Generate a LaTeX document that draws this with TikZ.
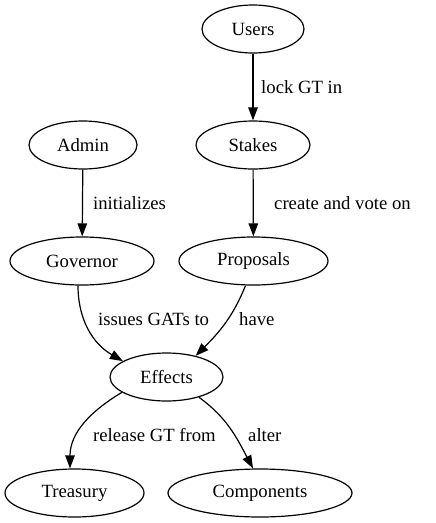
\documentclass[tikz,border=0pt]{standalone}
\usepackage{fontspec}
\setmainfont{Liberation Serif}
\usetikzlibrary{shapes.geometric,arrows.meta}

\begin{document}
\begin{tikzpicture}[x=1pt,y=-1pt,
                    font=\fontsize{18.7}{22}\selectfont,
                    gv node/.style={ellipse, draw, line width=1.2pt, inner sep=0pt, minimum height=48pt},
                    gv edge/.style={line width=1.2pt, -{Triangle[length=13pt,width=9.5pt]}},
                    edge label/.style={anchor=west, inner sep=0pt}]
        \useasboundingbox (0,0) rectangle (436,523);

        % nodes
        \node[gv node, minimum width=102pt] (users) at (253,29) {Users};
        \node[gv node, minimum width=108pt] (admin) at (83,145) {Admin};
        \node[gv node, minimum width=114pt] (stakes) at (253,145) {Stakes};
        \node[gv node, minimum width=144pt] (governor) at (82,261) {Governor};
        \node[gv node, minimum width=149pt] (proposals) at (253.5,261) {Proposals};
        \node[gv node, minimum width=113pt] (effects) at (166.5,377) {Effects};
        \node[gv node, minimum width=139pt] (treasury) at (74.5,493) {Treasury};
        \node[gv node, minimum width=184pt] (components) at (260,493) {Components};

        % edges
        \draw[gv edge] (users) -- (stakes);
        \draw[gv edge] (admin) -- (governor);
        \draw[gv edge] (stakes) -- (proposals);
        \draw[gv edge] ([xshift=-4pt]governor.south) to[out=-90,in=150] (effects.160);
        \draw[gv edge] ([xshift=-8pt]proposals.south) to[out=-112,in=45] (effects.36);
        \draw[gv edge] (effects.199) to[out=211,in=90] ([xshift=-4.5pt]treasury.north);
        \draw[gv edge] (effects.-32) to[out=-36,in=118] ([xshift=-7pt]components.north);

        % labels
        \node[edge label] (l1) at (261,87) {lock GT in};
        \node[edge label] (l2) at (93,203) {initializes};
        \node[edge label] (l3) at (274,203) {create and vote on};
        \node[edge label] (l4) at (98,319) {issues GATs to};
        \node[edge label] (l5) at (239,319) {have};
        \node[edge label] (l6) at (93,435) {release GT from};
        \node[edge label] (l7) at (248,435) {alter};
    \end{tikzpicture}
\end{document}
